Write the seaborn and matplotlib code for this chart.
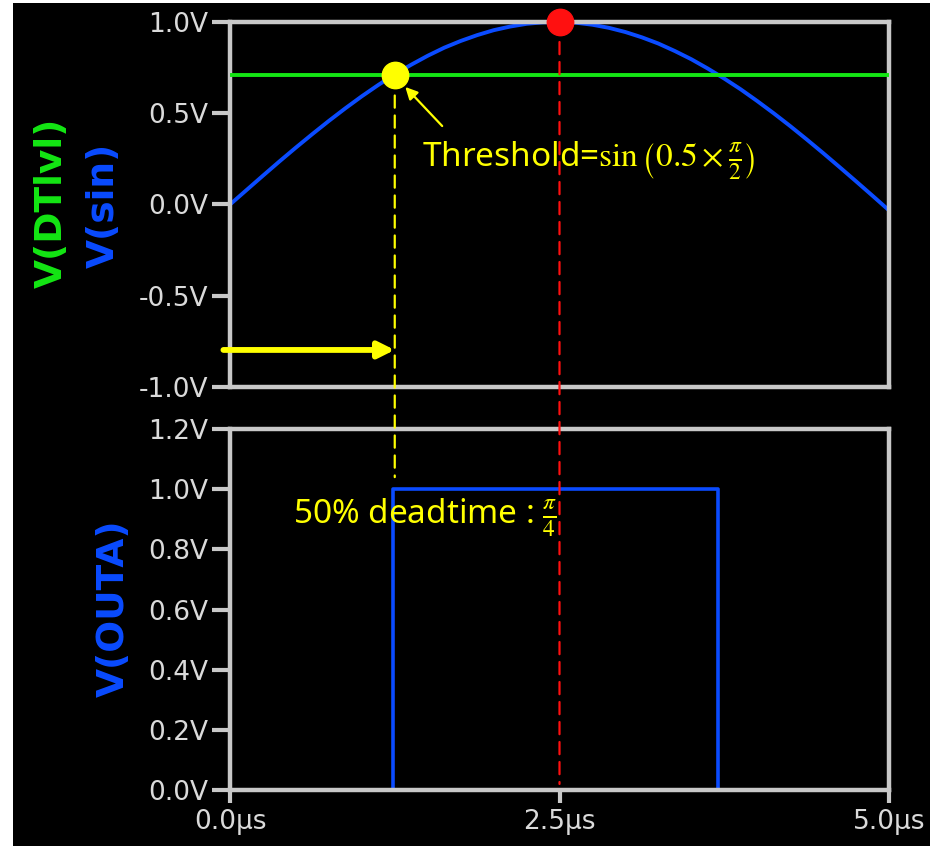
import numpy as np
import pandas as pd
import matplotlib.pyplot as plt
import seaborn as sns
from matplotlib.patches import ConnectionPatch, Rectangle
from matplotlib.ticker import FixedLocator, FixedFormatter

t_sin = [0.0, 0.125, 0.25, 0.375, 0.5, 0.625, 0.75, 0.875, 1.0, 1.125,
         1.25, 1.375, 1.5, 1.625, 1.75, 1.875, 2.0, 2.125, 2.25, 2.375,
         2.5, 2.625, 2.75, 2.875, 3.0, 3.125, 3.25, 3.375, 3.5, 3.625,
         3.75, 3.875, 4.0, 4.125, 4.25, 4.375, 4.5, 4.625, 4.75, 4.875, 5.0]
v_sin = [0.0, 0.079, 0.158, 0.236, 0.312, 0.386, 0.458, 0.527, 0.593, 0.655,
         0.713, 0.766, 0.815, 0.859, 0.896, 0.928, 0.955, 0.975, 0.990, 0.998,
         1.0, 0.996, 0.985, 0.968, 0.945, 0.916, 0.882, 0.841, 0.796, 0.745,
         0.690, 0.631, 0.567, 0.500, 0.430, 0.357, 0.282, 0.205, 0.127, 0.048, -0.032]
t_dtlvl = [0.0, 5.0]
v_dtlvl = [0.707, 0.707]
t_outa = [0.0, 1.24, 1.24, 3.70, 3.70, 5.0]
v_outa = [0.0, 0.0, 1.0, 1.0, 0.0, 0.0]

thr_point = (1.25, 0.707)     # пересечение с порогом
peak_point = (2.5, 1.0)       # максимум синуса
yellow_end = 1.04             # конец жёлтой пунктирной в нижнем окне
red_end = 0.02

xticks = [0.0, 2.5, 5.0]
xticklabels = ['0.0µs', '2.5µs', '5.0µs']
top_yticks = [-1.0, -0.5, 0.0, 0.5, 1.0]
top_yticklabels = ['-1.0V', '-0.5V', '0.0V', '0.5V', '1.0V']
bot_yticks = [0.0, 0.2, 0.4, 0.6, 0.8, 1.0, 1.2]
bot_yticklabels = ['0.0V', '0.2V', '0.4V', '0.6V', '0.8V', '1.0V', '1.2V']

BLUE = '#0a4bff'
GREEN = '#14e614'
YELLOW = '#ffff00'
RED = '#ff1010'
FRAME = '#c8c8c8'
TICKTXT = '#dadada'

sns.set_style('dark', {'axes.facecolor': 'black', 'figure.facecolor': 'white'})
plt.rcParams['font.family'] = ['DejaVu Sans']
plt.rcParams['mathtext.fontset'] = 'stix'

W, H = 930, 846
fig = plt.figure(figsize=(W / 100, H / 100), dpi=100)
# чёрный фон с белой полоской слева и сверху
fig.add_artist(Rectangle((13 / W, 0), 1, 1 - 3 / H, transform=fig.transFigure,
                         facecolor='black', edgecolor='none', zorder=-10))


def px(x0, y0, x1, y1):
    return [x0 / W, 1 - y1 / H, (x1 - x0) / W, (y1 - y0) / H]


ax1 = fig.add_axes(px(230, 22, 889, 387))
ax2 = fig.add_axes(px(230, 429, 889, 790))

df_sin = pd.DataFrame({'t': t_sin, 'v': v_sin})
df_lvl = pd.DataFrame({'t': t_dtlvl, 'v': v_dtlvl})
df_out = pd.DataFrame({'t': t_outa, 'v': v_outa})

sns.lineplot(data=df_sin, x='t', y='v', ax=ax1, color=BLUE, lw=2.8, zorder=2)
sns.lineplot(data=df_lvl, x='t', y='v', ax=ax1, color=GREEN, lw=2.8, zorder=3)
sns.lineplot(data=df_out, x='t', y='v', ax=ax2, color=BLUE, lw=2.6,
             sort=False, estimator=None, zorder=2)

for ax in (ax1, ax2):
    ax.set_xlim(0, 5)
    ax.set_xlabel('')
    ax.set_ylabel('')
    ax.grid(False)
    for s in ax.spines.values():
        s.set_visible(True)
        s.set_color(FRAME)
        s.set_linewidth(3.2)
    ax.tick_params(axis='y', which='both', left=True, length=13, width=3,
                   color=FRAME, labelcolor=TICKTXT, labelsize=19, pad=3)

ax1.set_ylim(-1.0, 1.0)
ax1.yaxis.set_major_locator(FixedLocator(top_yticks))
ax1.yaxis.set_major_formatter(FixedFormatter(top_yticklabels))
ax1.tick_params(axis='x', bottom=False, labelbottom=False)

ax2.set_ylim(0, 1.2)
ax2.yaxis.set_major_locator(FixedLocator(bot_yticks))
ax2.yaxis.set_major_formatter(FixedFormatter(bot_yticklabels))
ax2.xaxis.set_major_locator(FixedLocator(xticks))
ax2.xaxis.set_major_formatter(FixedFormatter(xticklabels))
ax2.tick_params(axis='x', bottom=True, length=9.5, width=3, color=FRAME,
                labelcolor=TICKTXT, labelsize=19, pad=4)

# пунктирные вертикали через оба окна
dash = (0, (5.5, 3.5))
for (xa, ya), yb, col in [(thr_point, yellow_end, YELLOW), (peak_point, red_end, RED)]:
    con = ConnectionPatch(xyA=(xa, ya), coordsA='data', axesA=ax1,
                          xyB=(xa, yb), coordsB='data', axesB=ax2,
                          color=col, lw=1.6, linestyle=dash, zorder=4)
    fig.add_artist(con)

ax1.plot(*thr_point, 'o', color=YELLOW, ms=19, zorder=6, clip_on=False)
ax1.plot(*peak_point, 'o', color=RED, ms=19, zorder=6, clip_on=False)

# горизонтальная стрелка
ax1.annotate('', xy=(thr_point[0], -0.797), xytext=(-0.05, -0.797),
             arrowprops=dict(arrowstyle='-|>', color=YELLOW, lw=4.2,
                             mutation_scale=24, shrinkA=0, shrinkB=0),
             annotation_clip=False, zorder=5)
# маленькая стрелка к точке порога
ax1.annotate('', xy=(1.33, 0.644), xytext=(1.61, 0.43),
             arrowprops=dict(arrowstyle='-|>', color=YELLOW, lw=1.6,
                             mutation_scale=18, shrinkA=0, shrinkB=0), zorder=5)

ax1.text(1.46, 0.24, r'Threshold=$\sin\left(0.5\times\frac{\pi}{2}\right)$',
         color=YELLOW, fontsize=24, family=['Noto Sans', 'DejaVu Sans'],
         ha='left', va='center', zorder=7)
ax2.text(0.478, 0.905, r'50% deadtime : $\frac{\pi}{4}$',
         color=YELLOW, fontsize=24, family=['Noto Sans', 'DejaVu Sans'],
         ha='left', va='center', zorder=7)

# подписи осей в стиле LTspice
fig.text(52 / W, 1 - 203 / H, 'V(DTlvl)', color=GREEN, fontsize=27,
         fontweight='bold', rotation=90, ha='center', va='center')
fig.text(104 / W, 1 - 205 / H, 'V(sin)', color=BLUE, fontsize=27,
         fontweight='bold', rotation=90, ha='center', va='center')
fig.text(114 / W, 1 - 608 / H, 'V(OUTA)', color=BLUE, fontsize=27,
         fontweight='bold', rotation=90, ha='center', va='center')

fig.savefig('out.png', dpi=100)
